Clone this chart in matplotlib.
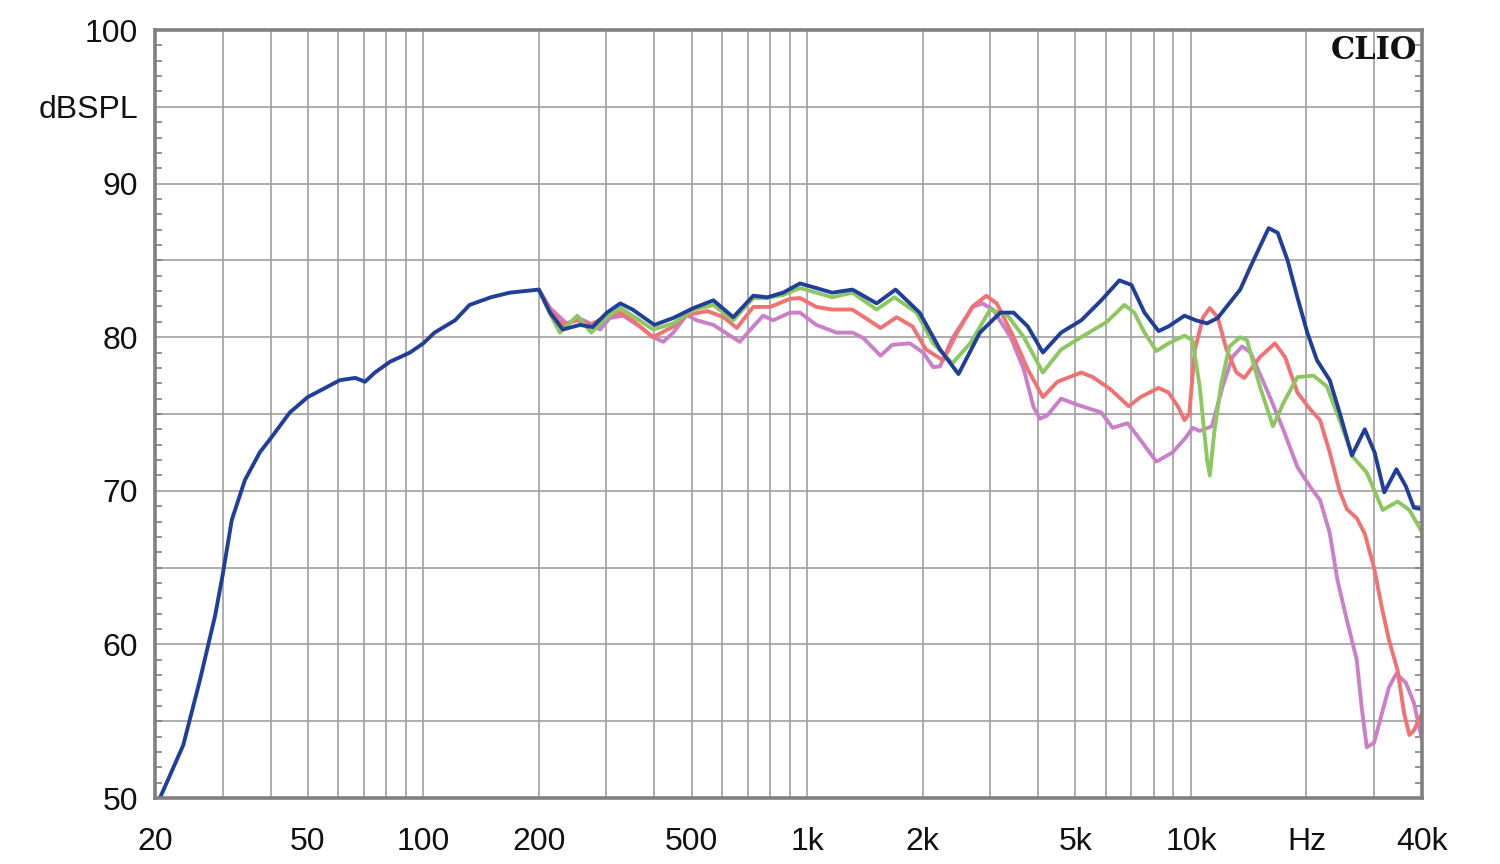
import matplotlib
matplotlib.use("Agg")
import matplotlib.pyplot as plt
from matplotlib.ticker import FixedLocator, NullFormatter

plt.rcParams['font.family'] = ['Liberation Sans', 'DejaVu Sans']

# ---- data (frequency in Hz, level in dB SPL) ----
blue_f = [20.6, 21.9, 23.7, 26.2, 28.7, 30, 31.7, 34.3, 37.5, 40, 44.9, 50, 54.6, 60.6, 66.5, 70.5,
          74.8, 81.9, 92.3, 100, 107, 121, 132, 150, 168, 200, 214, 231, 256, 276, 301, 326, 351,
          400, 448, 506, 570, 642, 724, 788, 866, 958, 1057, 1162, 1313, 1518, 1700, 1964, 2220,
          2480, 2820, 3188, 3452, 3758, 4115, 4590, 5180, 5840, 6510, 7000, 7568, 8236, 8740, 9620,
          10300, 11020, 11740, 13440, 14300, 15940, 16830, 17860, 18940, 20100, 21300, 23000, 24400,
          26260, 28380, 30100, 31900, 34300, 36300, 38100, 40000]
blue_db = [50.0, 51.5, 53.45, 57.7, 61.9, 64.5, 68.1, 70.7, 72.5, 73.4, 75.1, 76.1, 76.6, 77.2, 77.35, 77.1,
           77.7, 78.4, 79.0, 79.6, 80.3, 81.1, 82.1, 82.6, 82.9, 83.1, 81.6, 80.5, 80.8, 80.66, 81.6, 82.2, 81.8,
           80.8, 81.25, 81.9, 82.4, 81.3, 82.7, 82.6, 82.9, 83.5, 83.2, 82.9, 83.1, 82.2, 83.1, 81.6, 79.2,
           77.6, 80.3, 81.6, 81.6, 80.7, 79.0, 80.3, 81.1, 82.4, 83.7, 83.4, 81.6, 80.4, 80.7, 81.4,
           81.1, 80.9, 81.25, 83.1, 84.6, 87.1, 86.8, 85.0, 82.6, 80.3, 78.5, 77.2, 75.1,
           72.3, 74.0, 72.5, 69.9, 71.4, 70.3, 68.9, 68.8]

green_f = [200, 214, 227, 252, 274, 301, 326, 351, 397, 448, 506, 570, 642, 724, 788, 866, 958, 1057,
           1162, 1313, 1518, 1688, 1928, 2130, 2392, 2660, 3000, 3334, 3670, 4115, 4590, 5180, 6040,
           6710, 7120, 7568, 8130, 8740, 9620, 10100, 10540, 11020, 11200, 11500, 12000, 12600, 13440,
           14000, 15120, 16360, 17400, 18940, 20840, 22600, 24400, 26440, 28700, 31600, 34560, 37100, 40000]
green_db = [83.1, 81.5, 80.3, 81.4, 80.3, 81.3, 81.9, 81.4, 80.5, 80.9, 81.8, 82.1, 81.1, 82.55, 82.55, 82.75, 83.2, 82.9,
            82.6, 82.9, 81.8, 82.6, 81.6, 79.6, 78.3, 79.6, 81.8, 81.4, 80.0, 77.7, 79.2, 80.0, 81.0,
            82.1, 81.6, 80.3, 79.1, 79.6, 80.1, 79.8, 76.8, 72.0, 71.0, 73.8, 77.0, 79.4, 80.0,
            79.8, 76.8, 74.2, 75.7, 77.4, 77.5, 76.8, 74.6, 72.2, 71.2, 68.75, 69.3, 68.75, 67.3]

red_f = [200, 214, 231, 252, 272, 294, 326, 351, 397, 448, 486, 550, 606, 656, 724, 802, 902, 958, 1057,
         1162, 1313, 1554, 1712, 1882, 2040, 2262, 2460, 2700, 2930, 3120, 3452, 3758, 4115, 4490, 5180,
         5550, 6180, 6890, 7390, 8236, 8740, 9270, 9620, 9900, 10240, 10760, 11200, 11740, 12380, 13140,
         13780, 15120, 16560, 17600, 18940, 20460, 21700, 23000, 24400, 25500, 27080, 28380, 30000,
         31440, 32800, 34560, 35940, 37100, 38100, 40000]
red_db = [83.1, 81.8, 80.8, 81.1, 80.8, 81.25, 81.6, 81.1, 80.0, 80.7, 81.45, 81.7, 81.3, 80.6, 81.97, 81.97, 82.5, 82.55, 81.97,
          81.8, 81.8, 80.6, 81.3, 80.7, 79.2, 78.5, 80.3, 82.0, 82.7, 82.2, 80.0, 77.9, 76.1, 77.1, 77.7,
          77.4, 76.6, 75.5, 76.1, 76.7, 76.4, 75.45, 74.6, 75.0, 79.2, 81.3, 81.9, 81.3, 79.2, 77.7,
          77.35, 78.7, 79.6, 78.7, 76.4, 75.3, 74.6, 72.5, 70.0, 68.8, 68.2, 67.2, 65.0,
          62.4, 60.3, 58.3, 55.5, 54.1, 54.4, 55.5]

purple_f = [200, 214, 236, 256, 272, 289, 306, 332, 366, 397, 422, 448, 486, 516, 570, 630, 668, 724, 768,
            816, 902, 958, 1057, 1192, 1313, 1400, 1554, 1666, 1852, 2006, 2130, 2220, 2392, 2700, 2860,
            3050, 3392, 3670, 3890, 4040, 4220, 4590, 5060, 5840, 6250, 6840, 7390, 8130, 8960, 9720,
            10100, 10540, 11340, 12100, 12820, 13600, 14300, 15880, 17400, 18940, 20460, 21700, 23000,
            24080, 25480, 27040, 27860, 28720, 30000, 31440, 32800, 34300, 36300, 38100, 40000]
purple_db = [83.1, 81.9, 80.9, 81.2, 80.9, 80.5, 81.25, 81.4, 80.7, 80.0, 79.7, 80.3, 81.45, 81.1, 80.8, 80.1, 79.7, 80.7, 81.4,
             81.1, 81.6, 81.6, 80.8, 80.3, 80.3, 79.95, 78.8, 79.5, 79.6, 79.0, 78.05, 78.1, 79.95, 81.97, 82.2,
             81.8, 80.0, 77.9, 75.45, 74.7, 74.9, 76.0, 75.6, 75.1, 74.1, 74.4, 73.3, 71.9, 72.5, 73.5,
             74.1, 73.9, 74.2, 76.8, 78.7, 79.4, 79.0, 76.4, 74.0, 71.55, 70.25, 69.4, 67.25,
             64.2, 61.6, 59.0, 55.9, 53.3, 53.6, 55.5, 57.2, 58.1, 57.5, 56.2, 53.8]

x_label_pos = [20, 50, 100, 200, 500, 1000, 2000, 5000, 10000, 20000, 40000]
x_label_txt = ['20', '50', '100', '200', '500', '1k', '2k', '5k', '10k', 'Hz', '40k']
y_label_pos = [50, 60, 70, 80, 90, 95, 100]
y_label_txt = ['50', '60', '70', '80', '90', 'dBSPL', '100']

# ---- figure ----
fig = plt.figure(figsize=(15, 8.64), dpi=100)
ax = fig.add_axes([155/1500, 1-798/864, (1422-155)/1500, (798-30)/864])
ax.set_xscale('log')
ax.set_xlim(20, 40000)
ax.set_ylim(50, 100)

grid_c = '#a0a0a0'
# vertical grid lines at decade subdivisions
grid_x = []
for dec in [10, 100, 1000, 10000]:
    for m in range(1, 10):
        v = m * dec
        if 20 < v < 40000:
            grid_x.append(v)
for v in grid_x:
    ax.axvline(v, color=grid_c, lw=1.2, zorder=1)
for v in range(55, 100, 5):
    ax.axhline(v, color=grid_c, lw=1.2, zorder=1)

lw = 2.8
kw = dict(lw=lw, solid_joinstyle='round', solid_capstyle='round')
ax.plot(purple_f, purple_db, color='#c97fc9', zorder=3, **kw)
ax.plot(red_f, red_db, color='#f07272', zorder=4, **kw)
ax.plot(green_f, green_db, color='#8cc760', zorder=5, **kw)
ax.plot(blue_f, blue_db, color='#1f3f9a', zorder=6, **kw)

ax.xaxis.set_major_locator(FixedLocator(x_label_pos))
ax.xaxis.set_minor_locator(FixedLocator([]))
ax.set_xticklabels(x_label_txt)
ax.xaxis.set_minor_formatter(NullFormatter())
ax.tick_params(axis='x', which='major', length=0, pad=21, labelsize=23, labelcolor='#111111')

ax.yaxis.set_major_locator(FixedLocator(y_label_pos))
ax.set_yticklabels(y_label_txt)
ax.yaxis.set_minor_locator(FixedLocator(list(range(51, 100))))
ax.tick_params(axis='y', which='major', length=0, pad=12, labelsize=23, labelcolor='#111111')
ax.tick_params(axis='y', which='minor', direction='in', length=5, width=1.2, color='#808080',
               left=True, right=True)

for s in ax.spines.values():
    s.set_color('#808080')
    s.set_linewidth(2.6)
    s.set_zorder(7)

ax.text(0.996, 0.993, 'CLIO', transform=ax.transAxes, ha='right', va='top',
        fontsize=22, fontweight='bold', family=['DejaVu Serif'], color='#111111', zorder=8)

fig.savefig('out.png', dpi=100, facecolor='white')
